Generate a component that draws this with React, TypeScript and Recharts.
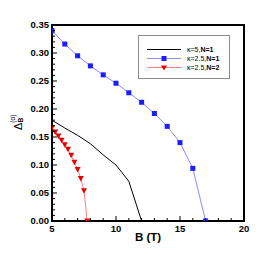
import React from 'react';
import { ComposedChart, Line, XAxis, YAxis, Legend, ReferenceArea } from 'recharts';

// ---- data ----
const kappa5N1B = [5, 6, 7, 8, 9, 10, 11, 12];
const kappa5N1Delta = [0.18, 0.166, 0.153, 0.138, 0.118, 0.1, 0.071, 0.0];

const kappa25N1B = [5, 6, 7, 8, 9, 10, 11, 12, 13, 14, 15, 16, 17];
const kappa25N1Delta = [0.34, 0.316, 0.295, 0.277, 0.261, 0.246, 0.229, 0.212, 0.192, 0.169, 0.14, 0.094, 0.0];

const kappa25N2B = [5, 5.25, 5.5, 5.75, 6, 6.25, 6.5, 6.75, 7, 7.25, 7.5, 7.75];
const kappa25N2Delta = [0.167, 0.159, 0.152, 0.144, 0.136, 0.128, 0.1175, 0.105, 0.092, 0.076, 0.054, 0.0];

const xTicks = [5, 6, 7, 8, 9, 10, 11, 12, 13, 14, 15, 16, 17, 18, 19, 20];
const xMajorTicks = [5, 10, 15, 20];
const yTicks = Array.from({ length: 36 }, (_, i) => i / 100);
const yMajorTicks = [0, 0.05, 0.1, 0.15, 0.2, 0.25, 0.3, 0.35];

const legendLabels = [
  { k: 'κ=5,', n: 'N=1' },
  { k: 'κ=2.5,', n: 'N=1' },
  { k: 'κ=2.5,', n: 'N=2' },
];

const BLACK = '#000000';
const BLUE_LINE = '#8c8cff';
const BLUE_MARK = '#1c1cff';
const RED_LINE = '#ff8080';
const RED_MARK = '#e80000';

const toPts = (xs: number[], ys: number[]) => xs.map((x, i) => ({ x, y: ys[i] }));
const blackData = toPts(kappa5N1B, kappa5N1Delta);
const blueData = toPts(kappa25N1B, kappa25N1Delta);
const redData = toPts(kappa25N2B, kappa25N2Delta);

const FONT = 'Liberation Sans, Arial, Helvetica, sans-serif';

const isMajor = (v: number, majors: number[]) => majors.some((m) => Math.abs(m - v) < 1e-6);

const YTick = (props: any) => {
  const { x, y, payload } = props;
  const v = payload.value;
  const major = isMajor(v, yMajorTicks);
  const axisX = x + 3;
  return (
    <g>
      <line x1={axisX} x2={axisX + (major ? 5 : 3)} y1={y} y2={y} stroke="#000" strokeWidth={1} />
      {major && (
        <text x={x} y={y} dy="0.36em" textAnchor="end" fontFamily={FONT} fontWeight="bold" fontSize={9.5} fill="#000">
          {v.toFixed(2)}
        </text>
      )}
    </g>
  );
};

const XTick = (props: any) => {
  const { x, y, payload } = props;
  const v = payload.value;
  const major = isMajor(v, xMajorTicks);
  const axisY = y - 4;
  return (
    <g>
      <line x1={x} x2={x} y1={axisY} y2={axisY - (major ? 5 : 3)} stroke="#000" strokeWidth={1} />
      {major && (
        <text x={x} y={y} dy="0.71em" textAnchor="middle" fontFamily={FONT} fontWeight="bold" fontSize={9.5} fill="#000">
          {String(v)}
        </text>
      )}
    </g>
  );
};

const BlueSquare = (p: any) => {
  if (p.cx == null || p.cy == null) return <g key={p.key} />;
  return <rect key={p.key} x={p.cx - 2.5} y={p.cy - 2.5} width={5} height={5} fill={BLUE_MARK} />;
};

const RedTriangle = (p: any) => {
  if (p.cx == null || p.cy == null) return <g key={p.key} />;
  const { cx, cy } = p;
  return <polygon key={p.key} points={`${cx - 3},${cy - 2.5} ${cx + 3},${cy - 2.5} ${cx},${cy + 3}`} fill={RED_MARK} />;
};

const YLabel = (props: any) => {
  const vb = props.viewBox || { x: 0, y: 25, width: 52, height: 196 };
  const bx = vb.x + 22;
  const by = vb.y + vb.height / 2 + 7;
  return (
    <text x={bx} y={by} transform={`rotate(-90, ${bx}, ${by})`} fontFamily={FONT} fill="#000">
      <tspan fontSize={11}>Δ</tspan>
      <tspan fontSize={6.5} dy={-7}>(α)</tspan>
      <tspan fontSize={6.5} dx={-8} dy={8} fontWeight="bold">B</tspan>
    </text>
  );
};

const LegendBox = () => {
  const rows = [
    { stroke: BLACK, marker: null as null | string },
    { stroke: BLUE_LINE, marker: 'square' },
    { stroke: RED_LINE, marker: 'tri' },
  ];
  return (
    <svg width={92} height={44} style={{ display: 'block' }}>
      <rect x={0.5} y={0.5} width={91} height={43} fill="#fff" stroke="#8a8a8a" strokeWidth={1} />
      {rows.map((r, i) => {
        const y = 14.5 + i * 9;
        return (
          <g key={i}>
            <line x1={9} x2={43} y1={y} y2={y} stroke={r.stroke} strokeWidth={1} />
            {r.marker === 'square' && <rect x={23.5} y={y - 2.5} width={5} height={5} fill={BLUE_MARK} />}
            {r.marker === 'tri' && (
              <polygon points={`${23},${y - 2} ${29},${y - 2} ${26},${y + 3}`} fill={RED_MARK} />
            )}
            <text x={49} y={y} dy="0.35em" fontFamily={FONT} fontSize={7} fill="#000">
              <tspan fontWeight="normal">{legendLabels[i].k}</tspan>
              <tspan fontWeight="bold">{legendLabels[i].n}</tspan>
            </text>
          </g>
        );
      })}
    </svg>
  );
};

export default function App() {
  return (
    <div style={{ position: 'absolute', left: 0, top: 0, width: 259, height: 259, background: '#fff' }}>
      <ComposedChart width={259} height={259} margin={{ top: 25, right: 15, left: 0, bottom: 0 }}>
        <XAxis
          type="number"
          dataKey="x"
          domain={[5, 20]}
          ticks={xTicks}
          interval={0}
          allowDataOverflow
          tickSize={0}
          tickMargin={4}
          tickLine={false}
          axisLine={false}
          height={38}
          tick={<XTick />}
          label={{ value: 'B (T)', position: 'insideBottom', offset: 18, fontFamily: FONT, fontWeight: 'bold', fontSize: 11.5, fill: '#000' } as any}
        />
        <YAxis
          type="number"
          dataKey="y"
          domain={[0, 0.35]}
          ticks={yTicks}
          interval={0}
          allowDataOverflow
          tickSize={0}
          tickMargin={3}
          tickLine={false}
          axisLine={false}
          width={52}
          tick={<YTick />}
          label={(p: any) => <YLabel {...p} />}
        />
        <ReferenceArea x1={5} x2={20} y1={0} y2={0.35} fill="none" stroke="#000" strokeWidth={2} ifOverflow="visible" />
        <Line
          data={blackData}
          dataKey="y"
          type="linear"
          stroke={BLACK}
          strokeWidth={1}
          dot={false}
          activeDot={false}
          isAnimationActive={false}
        />
        <Line
          data={blueData}
          dataKey="y"
          type="linear"
          stroke={BLUE_LINE}
          strokeWidth={1}
          dot={BlueSquare}
          activeDot={false}
          isAnimationActive={false}
        />
        <Line
          data={redData}
          dataKey="y"
          type="linear"
          stroke={RED_LINE}
          strokeWidth={1}
          dot={RedTriangle}
          activeDot={false}
          isAnimationActive={false}
        />
        <Legend
          layout="vertical"
          align="center"
          verticalAlign="middle"
          content={() => <LegendBox />}
          wrapperStyle={{ left: 138, top: 35, width: 92, height: 44 }}
        />
      </ComposedChart>
    </div>
  );
}
